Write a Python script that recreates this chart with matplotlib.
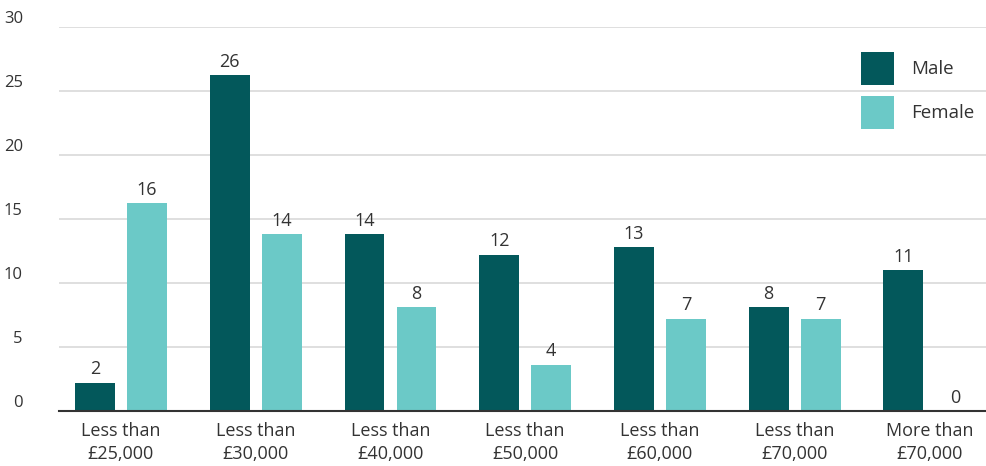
import numpy as np
import matplotlib
matplotlib.use("Agg")
import matplotlib.pyplot as plt
from matplotlib.transforms import ScaledTranslation

# values (percent)
categories = ["Less than\n£25,000", "Less than\n£30,000", "Less than\n£40,000",
              "Less than\n£50,000", "Less than\n£60,000", "Less than\n£70,000",
              "More than\n£70,000"]
male = [2.2, 26.2, 13.8, 12.2, 12.8, 8.1, 11.0]
female = [16.2, 13.8, 8.1, 3.6, 7.2, 7.2, 0.0]
series_names = ["Male", "Female"]
y_ticks = [0, 5, 10, 15, 20, 25, 30]

MALE_COL = "#03585b"
FEMALE_COL = "#6bc9c7"
TEXT_COL = "#333333"

plt.rcParams["font.family"] = ["Open Sans", "DejaVu Sans"]

fig = plt.figure(figsize=(9.86, 4.66), dpi=100)
ax = fig.add_axes([59 / 986, 1 - 410.7 / 466, 1 - 59 / 986, 384 / 466])

x = np.arange(len(categories))
off = 0.193
w = 0.296
b1 = ax.bar(x - off, male, w, color=MALE_COL, label=series_names[0], zorder=3)
b2 = ax.bar(x + off, female, w, color=FEMALE_COL, label=series_names[1], zorder=3)

for bars, vals in ((b1, male), (b2, female)):
    for r, v in zip(bars, vals):
        ax.annotate(f"{v:.0f}", (r.get_x() + r.get_width() / 2, v),
                    xytext=(0, 3), textcoords="offset points",
                    ha="center", va="bottom", fontsize=13, color=TEXT_COL)

ax.set_xlim(-0.46, 6.42)
ax.set_ylim(0, 30)
ax.set_yticks(y_ticks)
ax.set_xticks(x)
ax.set_xticklabels(categories, fontsize=13, color=TEXT_COL, linespacing=1.4)
ax.tick_params(axis="y", length=0, pad=26, labelsize=12, labelcolor=TEXT_COL)
ax.tick_params(axis="x", length=0, pad=8)

# y tick labels sit a bit above their gridlines
shift = ScaledTranslation(0, 10 / 100, fig.dpi_scale_trans)
for lab in ax.get_yticklabels():
    lab.set_transform(lab.get_transform() + shift)

ax.grid(axis="y", color="#d9d9d9", linewidth=1.2, zorder=0)
for s in ("top", "right", "left"):
    ax.spines[s].set_visible(False)
ax.spines["bottom"].set_color(TEXT_COL)
ax.spines["bottom"].set_linewidth(1.5)
ax.spines["bottom"].set_zorder(4)

fig.legend(loc="upper left", bbox_to_anchor=(861 / 986, 1 - 52 / 466),
           frameon=False, fontsize=13.5, handlelength=1.76, handleheight=2.33,
           handletextpad=0.9, labelspacing=0.59, borderpad=0, borderaxespad=0,
           labelcolor=TEXT_COL)

fig.savefig("out.png", dpi=100)
